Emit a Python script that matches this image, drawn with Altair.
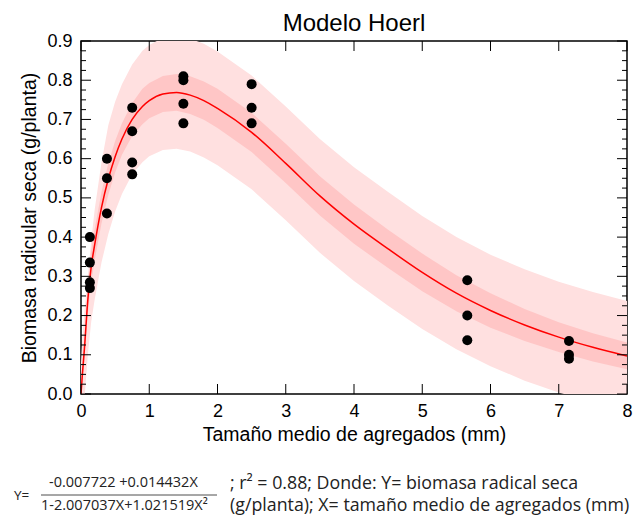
import altair as alt
import pandas as pd

# ---------------- data ----------------
pts_x = [0.13, 0.13, 0.13, 0.13,
         0.38, 0.38, 0.38,
         0.75, 0.75, 0.75, 0.75,
         1.5, 1.5, 1.5, 1.5,
         2.5, 2.5, 2.5,
         5.66, 5.66, 5.66,
         7.15, 7.15, 7.15]
pts_y = [0.40, 0.335, 0.285, 0.27,
         0.60, 0.55, 0.46,
         0.73, 0.67, 0.59, 0.56,
         0.81, 0.80, 0.74, 0.69,
         0.79, 0.73, 0.69,
         0.29, 0.20, 0.137,
         0.135, 0.10, 0.09]

curve_x = [0, 0.02, 0.05, 0.1, 0.15, 0.2, 0.3, 0.4, 0.5, 0.6, 0.75, 0.9, 1.0, 1.2,
           1.4, 1.6, 1.8, 2.0, 2.5, 3.0, 3.5, 4.0, 4.5, 5.0, 5.5, 6.0, 6.5, 7.0, 7.5, 8.0]
curve_y = [0, 0.05, 0.115, 0.24, 0.325, 0.38, 0.475, 0.548, 0.605, 0.65, 0.70, 0.733, 0.748, 0.765,
           0.769, 0.762, 0.748, 0.728, 0.667, 0.588, 0.505, 0.433, 0.37, 0.31, 0.257, 0.213, 0.176, 0.145, 0.119, 0.097]
inner_hi = [0.02, 0.075, 0.145, 0.275, 0.365, 0.42, 0.515, 0.588, 0.645, 0.69, 0.742, 0.778, 0.793, 0.811,
            0.816, 0.81, 0.797, 0.778, 0.717, 0.638, 0.555, 0.483, 0.419, 0.358, 0.303, 0.257, 0.217, 0.183, 0.155, 0.131]
inner_lo = [-0.02, 0.025, 0.085, 0.205, 0.285, 0.34, 0.435, 0.508, 0.565, 0.61, 0.658, 0.688, 0.703, 0.719,
            0.722, 0.714, 0.699, 0.678, 0.617, 0.538, 0.455, 0.383, 0.321, 0.262, 0.211, 0.169, 0.135, 0.107, 0.083, 0.063]
outer_hi = [0.08, 0.14, 0.21, 0.30, 0.39, 0.47, 0.59, 0.685, 0.745, 0.79, 0.84, 0.875, 0.89, 0.908,
            0.913, 0.906, 0.893, 0.873, 0.812, 0.733, 0.65, 0.578, 0.515, 0.454, 0.40, 0.355, 0.318, 0.286, 0.26, 0.237]
outer_lo = [-0.10, -0.07, -0.015, 0.10, 0.185, 0.24, 0.335, 0.408, 0.465, 0.51, 0.56, 0.591, 0.606, 0.622,
            0.625, 0.618, 0.603, 0.583, 0.522, 0.443, 0.36, 0.288, 0.225, 0.166, 0.114, 0.071, 0.034, 0.004, -0.022, -0.043]

x_ticks = [0, 1, 2, 3, 4, 5, 6, 7, 8]
y_ticks = [0.0, 0.1, 0.2, 0.3, 0.4, 0.5, 0.6, 0.7, 0.8, 0.9]
y_minor = [0.025, 0.05, 0.075, 0.125, 0.15, 0.175, 0.225, 0.25, 0.275, 0.325, 0.35, 0.375,
           0.425, 0.45, 0.475, 0.525, 0.55, 0.575, 0.625, 0.65, 0.675, 0.725, 0.75, 0.775,
           0.825, 0.85, 0.875]

title_text = "Modelo Hoerl"
x_title = "Tamaño medio de agregados (mm)"
y_title = "Biomasa radicular seca (g/planta)"
eq_num = "-0.007722 +0.014432X"
eq_den = "1-2.007037X+1.021519X²"
eq_line1 = "; r² = 0.88; Donde: Y= biomasa radical seca"
eq_line2 = "(g/planta); X= tamaño medio de agregados (mm)"

W, H = 546, 353
FONT = "Liberation Sans"

band = pd.DataFrame({"x": curve_x, "y": curve_y, "ihi": inner_hi, "ilo": inner_lo,
                     "ohi": outer_hi, "olo": outer_lo})
pts = pd.DataFrame({"x": pts_x, "y": pts_y})

xs = alt.Scale(domain=[0, 8], nice=False, zero=False)
ys = alt.Scale(domain=[0, 0.9], nice=False, zero=False)

common = dict(labelFont=FONT, labelFontSize=18, titleFont=FONT, titleFontSize=19.5,
              titleFontWeight="normal", ticks=False, domain=False, grid=False, tickCount=30,
              labelColor="black", titleColor="black", labelOverlap=False, labelFlush=False)
xaxis = alt.Axis(values=x_ticks, format="d", title=x_title, labelPadding=8, titlePadding=5, **common)
yaxis = alt.Axis(values=y_ticks, format=".1f", title=y_title, labelPadding=9, titlePadding=7, **common)

outer = alt.Chart(band).mark_area(color="#ffe0e0", clip=True).encode(
    x=alt.X("x:Q", scale=xs, axis=xaxis),
    y=alt.Y("olo:Q", scale=ys, axis=yaxis),
    y2="ohi:Q",
)
inner = alt.Chart(band).mark_area(color="#ffc6c6", clip=True).encode(
    x=alt.X("x:Q", scale=xs), y=alt.Y("ilo:Q", scale=ys), y2="ihi:Q"
)
line = alt.Chart(band).mark_line(color="#ff0000", strokeWidth=1.5, clip=True,
                                 interpolate="monotone").encode(
    x=alt.X("x:Q", scale=xs), y=alt.Y("y:Q", scale=ys)
)
points = alt.Chart(pts).mark_circle(color="black", opacity=1, size=100).encode(
    x=alt.X("x:Q", scale=xs), y=alt.Y("y:Q", scale=ys)
)

xt = pd.DataFrame({"x": x_ticks})
yt = pd.DataFrame({"y": y_ticks})
ym = pd.DataFrame({"y": y_minor})
tk = dict(color="black", strokeWidth=1)
tick_b = alt.Chart(xt).mark_rule(**tk).encode(x=alt.X("x:Q", scale=xs), y=alt.value(H), y2=alt.value(H - 10))
tick_t = alt.Chart(xt).mark_rule(**tk).encode(x=alt.X("x:Q", scale=xs), y=alt.value(0), y2=alt.value(10))
tick_l = alt.Chart(yt).mark_rule(**tk).encode(y=alt.Y("y:Q", scale=ys), x=alt.value(0), x2=alt.value(10))
tick_r = alt.Chart(yt).mark_rule(**tk).encode(y=alt.Y("y:Q", scale=ys), x=alt.value(W), x2=alt.value(W - 10))
tick_lm = alt.Chart(ym).mark_rule(**tk).encode(y=alt.Y("y:Q", scale=ys), x=alt.value(0), x2=alt.value(5))
tick_rm = alt.Chart(ym).mark_rule(**tk).encode(y=alt.Y("y:Q", scale=ys), x=alt.value(W), x2=alt.value(W - 5))

one = pd.DataFrame({"a": [0]})
def txt(s, x, y, size, align="left", font="Open Sans"):
    return alt.Chart(one).mark_text(text=s, align=align, baseline="middle", fontSize=size,
                                    font=font, color="#222222").encode(x=alt.value(x), y=alt.value(y))

t_Y = txt("Y=", -67, 455, 13.5)
t_num = txt(eq_num, -32, 442, 14.5)
t_den = txt(eq_den, -40, 465, 14.5)
bar = alt.Chart(one).mark_rule(color="#222222", strokeWidth=0.8).encode(
    x=alt.value(-40), x2=alt.value(136), y=alt.value(454))
t_l1 = txt(eq_line1, 149, 443, 17.8)
t_l2 = txt(eq_line2, 149, 465, 17.8)

chart = alt.layer(
    outer, inner, line, points,
    tick_b, tick_t, tick_l, tick_r, tick_lm, tick_rm,
    t_Y, t_num, t_den, bar, t_l1, t_l2,
).properties(
    width=W, height=H,
    title=alt.TitleParams(title_text, font=FONT, fontSize=24, fontWeight="normal",
                          color="black", anchor="middle", offset=-4),
    autosize=alt.AutoSizeParams(type="none"),
    padding={"left": 73, "top": 33, "right": 7, "bottom": 124},
).configure_view(stroke="black", strokeWidth=1.5).configure_axis(labelOverlap=False)

chart.save("out.html", embed_options={"renderer": "svg", "actions": False})
